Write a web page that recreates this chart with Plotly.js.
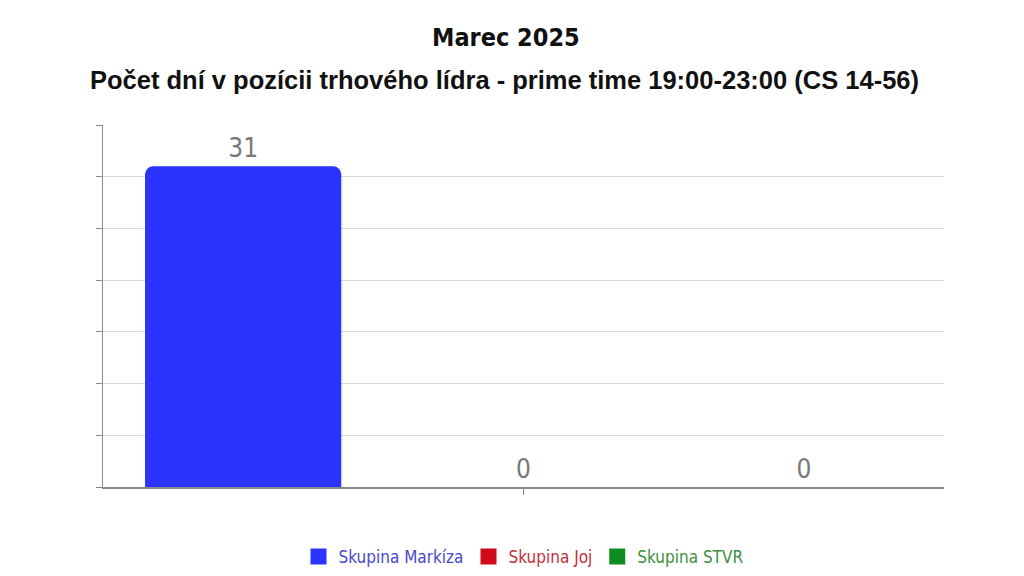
<!DOCTYPE html>
<html>
<head>
<meta charset="utf-8">
<script src="https://cdn.plot.ly/plotly-3.0.1.min.js"></script>
<style>
  html, body { margin: 0; padding: 0; background: #fff; }
  #chart { width: 1024px; height: 576px; }
</style>
</head>
<body>
<div id="chart"></div>
<script>
    // data
    var categories = ['Marec 2025'];
    var seriesNames = ['Skupina Markíza', 'Skupina Joj', 'Skupina STVR'];
    var markizaDays = [31];
    var jojDays = [0];
    var stvrDays = [0];

    var barColors = ['#2b33ff', '#cf0a1c', '#0e8c1f'];
    var textColors = ['#4848cf', '#c4303b', '#3b8f3b'];
    var values = [markizaDays, jojDays, stvrDays];

    var roundFont = '"DejaVu Sans Condensed", "DejaVu Sans", sans-serif';

    var data = [];
    for (let i in seriesNames) {
        data.push({
            x: categories,
            y: values[i],
            name: seriesNames[i],
            type: 'bar',
            marker: {color: barColors[i], cornerradius: 8},
            texttemplate: '%{y}',
            textposition: 'outside',
            textfont: {family: roundFont, size: 26, color: '#777'},
            cliponaxis: false,
            hoverinfo: 'skip',
            showlegend: false,
        });
    }
    // legend entries only (bigger square swatches, coloured names)
    for (let i in seriesNames) {
        data.push({
            x: categories,
            y: [null],
            name: '<span style="color:' + textColors[i] + '">' + seriesNames[i] + '</span>',
            type: 'scatter',
            mode: 'markers',
            marker: {color: barColors[i], symbol: 'square', size: 16},
            hoverinfo: 'skip',
        });
    }

    var layout = {
        width: 1024,
        height: 576,
        margin: {l: 103, r: 80, t: 125, b: 89},
        paper_bgcolor: '#fff',
        plot_bgcolor: '#fff',
        font: {family: roundFont, color: '#444'},
        title: {
            text: '<b>Marec 2025</b>',
            font: {family: roundFont, size: 25, color: '#111'},
            x: 0.494,
            xanchor: 'center',
            y: 0.935,
            yanchor: 'middle',
        },
        annotations: [{
            xref: 'paper', yref: 'paper',
            x: 0.478, y: 1.124,
            xanchor: 'center', yanchor: 'middle',
            text: '<b>Počet dní v pozícii trhového lídra - prime time 19:00-23:00 (CS 14-56)</b>',
            font: {family: 'Liberation Sans, Arial, sans-serif', size: 25.5, color: '#111'},
            showarrow: false,
        }],
        barmode: 'group',
        bargap: 0,
        bargroupgap: 0.3,
        xaxis: {
            showticklabels: false,
            ticks: 'outside',
            ticklen: 6,
            tickcolor: '#888',
            showline: true,
            linecolor: '#888',
            linewidth: 1.5,
            showgrid: false,
            zeroline: false,
        },
        yaxis: {
            range: [0, 35],
            dtick: 5,
            showticklabels: false,
            ticks: 'outside',
            ticklen: 6,
            tickcolor: '#888',
            showline: true,
            linecolor: '#888',
            linewidth: 1.5,
            gridcolor: '#dcdcdc',
            zeroline: false,
        },
        legend: {
            orientation: 'h',
            x: 0.5,
            xanchor: 'center',
            yref: 'container',
            y: 0.033,
            yanchor: 'middle',
            font: {family: roundFont, size: 17},
            itemclick: false,
        },
        showlegend: true,
    };
    var config = {responsive: false, displayModeBar: false, staticPlot: true};
    Plotly.newPlot('chart', data, layout, config);
</script>
</body>
</html>
